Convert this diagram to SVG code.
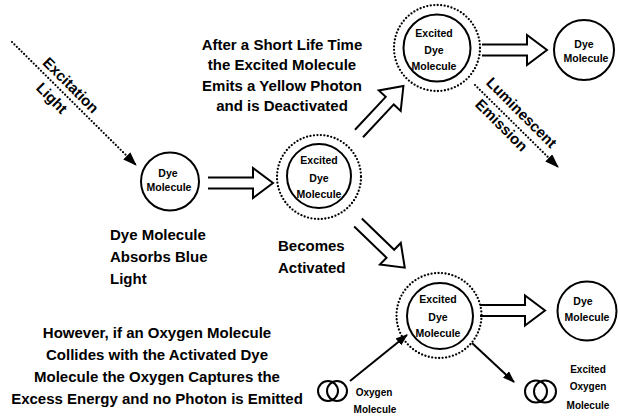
<svg xmlns="http://www.w3.org/2000/svg" width="618" height="419" viewBox="0 0 618 419">
<style>
 text { font-family: "Liberation Sans", Arial, sans-serif; fill:#000; }
 .lbl { font-size:15px; font-weight:bold; }
 .mid { text-anchor:middle; }
 .sm { font-size:10.5px; font-weight:bold; text-anchor:middle; }
 .xs { font-size:10px; }
 .ring { fill:#fff; stroke:#000; stroke-width:2; }
 .open { fill:none; stroke:#000; stroke-width:2; }
 .dots { fill:none; stroke:#000; stroke-width:2.3; stroke-dasharray:0 3.5; stroke-linecap:round; }
 .hollow { fill:#fff; stroke:#000; stroke-width:2; stroke-linejoin:miter; }
 .line { stroke:#000; stroke-width:2; fill:none; }
 .dline { stroke:#000; stroke-width:2.2; fill:none; stroke-dasharray:0 3.4; stroke-linecap:round; }
</style>
<defs>
 <marker id="ah" markerWidth="14" markerHeight="10" refX="13" refY="5" orient="auto" markerUnits="userSpaceOnUse"><path d="M0,0 L14,5 L0,10 Z" fill="#000"/></marker>
 <marker id="ahs" markerWidth="12" markerHeight="9" refX="11" refY="4.5" orient="auto" markerUnits="userSpaceOnUse"><path d="M0,0 L12,4.5 L0,9 Z" fill="#000"/></marker>
 <path id="harrow" d="M0,-5.5 H45 V-15 L65,0 L45,15 V5.5 H0"/>
</defs>

<g id="connectors">
 <path class="dline" d="M12,42 L136,165" marker-end="url(#ah)"/>
 <path class="dline" d="M475,85 L558,167" marker-end="url(#ah)"/>
 <use href="#harrow" class="hollow" transform="translate(208,183)"/>
 <use href="#harrow" class="hollow" transform="translate(359,133.5) rotate(-46.9)"/>
 <use href="#harrow" class="hollow" transform="translate(358,222.5) rotate(44)"/>
 <use href="#harrow" class="hollow" transform="translate(482,50)"/>
 <use href="#harrow" class="hollow" transform="translate(480,310.5)"/>
 <path class="line" d="M350,381 L407,335" marker-end="url(#ahs)"/>
 <path class="line" d="M472,343 L514,382" marker-end="url(#ahs)"/>
</g>

<g id="excitation-label">
 <text class="lbl mid" transform="translate(67.2,88.8) rotate(45)">Excitation</text>
 <text class="lbl mid" transform="translate(48.2,101.8) rotate(45)">Light</text>
</g>
<g id="luminescent-label">
 <text class="lbl mid" transform="translate(517.9,116.3) rotate(45)">Luminescent</text>
 <text class="lbl mid" transform="translate(497.9,128.8) rotate(45)">Emission</text>
</g>

<g id="dye1">
 <circle class="ring" cx="170" cy="181.5" r="29"/>
 <text class="sm" x="168" y="177">Dye</text>
 <text class="sm" x="169" y="191">Molecule</text>
</g>
<g id="excited1">
 <circle class="dots" cx="319" cy="177" r="42"/>
 <circle class="ring" cx="319" cy="176" r="32"/>
 <text class="sm" x="319" y="164">Excited</text>
 <text class="sm" x="319" y="182">Dye</text>
 <text class="sm" x="319" y="198">Molecule</text>
</g>
<g id="excited2">
 <circle class="dots" cx="437" cy="48" r="43"/>
 <circle class="ring" cx="437" cy="48" r="33.5"/>
 <text class="sm" x="434" y="37">Excited</text>
 <text class="sm" x="434" y="54">Dye</text>
 <text class="sm" x="434" y="70">Molecule</text>
</g>
<g id="dye2">
 <circle class="ring" cx="584" cy="50" r="30"/>
 <text class="sm" x="584" y="48">Dye</text>
 <text class="sm" x="586" y="62">Molecule</text>
</g>
<g id="excited3">
 <circle class="dots" cx="439" cy="315.5" r="42.5"/>
 <circle class="ring" cx="440" cy="316" r="33"/>
 <text class="sm" x="438" y="303">Excited</text>
 <text class="sm" x="438" y="321">Dye</text>
 <text class="sm" x="438" y="337">Molecule</text>
</g>
<g id="dye3">
 <circle class="ring" cx="587" cy="311" r="29.5"/>
 <text class="sm" x="583" y="305">Dye</text>
 <text class="sm" x="587" y="321">Molecule</text>
</g>
<g id="oxygen">
 <circle class="open" cx="328" cy="391" r="10"/>
 <circle class="open" cx="337" cy="391" r="10"/>
 <text class="sm xs" x="374" y="396">Oxygen</text>
 <text class="sm xs" x="375" y="413">Molecule</text>
</g>
<g id="excited-oxygen">
 <circle class="open" cx="536" cy="391.5" r="11"/>
 <circle class="open" cx="545" cy="391.5" r="11"/>
 <text class="sm xs" x="588" y="373">Excited</text>
 <text class="sm xs" x="588" y="390">Oxygen</text>
 <text class="sm xs" x="588" y="409">Molecule</text>
</g>

<g id="texts">
 <text class="lbl mid" x="282" y="49.5">After a Short Life Time</text>
 <text class="lbl mid" x="282" y="70">the Excited Molecule</text>
 <text class="lbl mid" x="282" y="90.5">Emits a Yellow Photon</text>
 <text class="lbl mid" x="282" y="111">and is Deactivated</text>
 <text class="lbl" x="110" y="240">Dye Molecule</text>
 <text class="lbl" x="110" y="262">Absorbs Blue</text>
 <text class="lbl" x="110" y="284">Light</text>
 <text class="lbl" x="278" y="251">Becomes</text>
 <text class="lbl" x="278" y="273">Activated</text>
 <text class="lbl mid" x="157" y="338">However, if an Oxygen Molecule</text>
 <text class="lbl mid" x="157" y="360">Collides with the Activated Dye</text>
 <text class="lbl mid" x="157" y="382">Molecule the Oxygen Captures the</text>
 <text class="lbl mid" x="157" y="404">Excess Energy and no Photon is Emitted</text>
</g>
</svg>
